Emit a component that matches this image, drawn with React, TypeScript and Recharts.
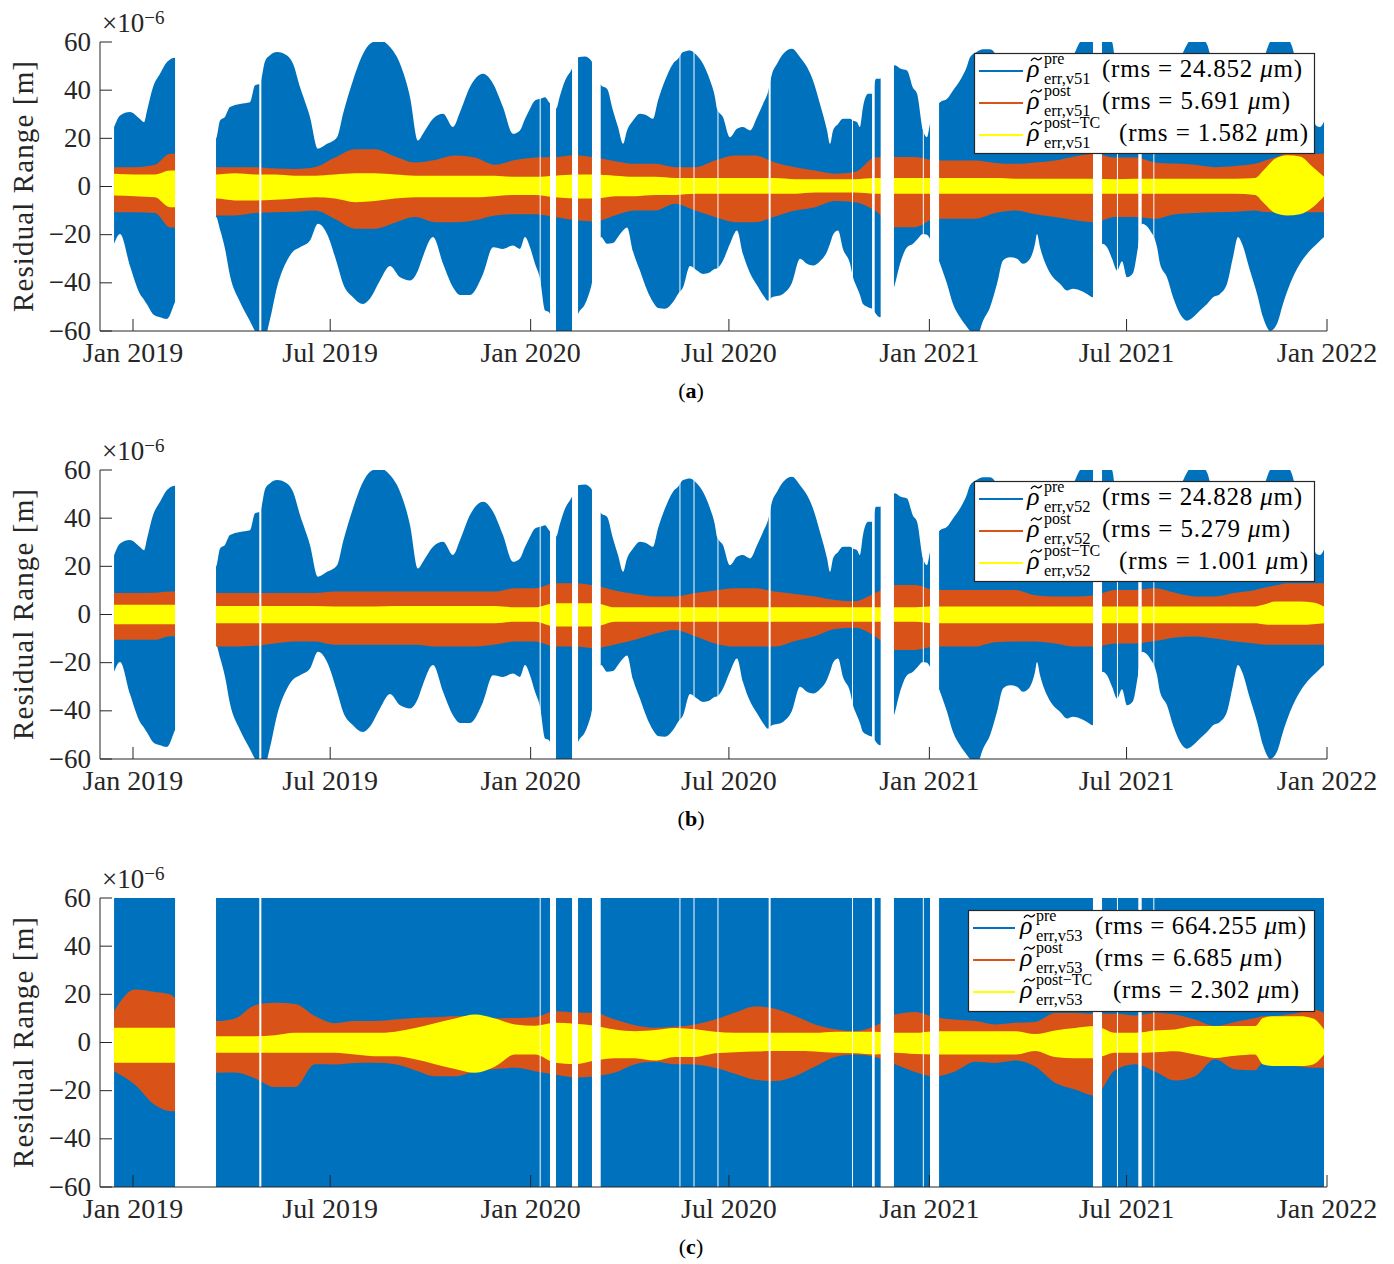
import React from 'react';
import { ComposedChart, Area, XAxis, YAxis, ReferenceArea } from 'recharts';

// ---------- axes ----------
const tickDays = [0, 181, 365, 547, 731, 912, 1096];
const tickLabels = ['Jan 2019', 'Jul 2019', 'Jan 2020', 'Jul 2020', 'Jan 2021', 'Jul 2021', 'Jan 2022'];
const yTicks = [-60, -40, -20, 0, 20, 40, 60];
const xDomain: [number, number] = [-30.3, 1096];

// ---------- data gaps (days since 2019-01-01) ----------
const gapStart = [38.6, 115.9, 373.3, 382.8, 403.0, 421.3, 501.6, 514.5, 536.5, 583.5, 660.0, 678.4, 686.3, 725.0, 731.6, 881.2, 903.2, 922.8, 936.6, 1093.5];
const gapEnd = [76.2, 117.8, 374.2, 388.3, 408.5, 429.3, 502.5, 515.4, 537.4, 585.3, 660.9, 680.8, 698.5, 725.9, 739.9, 889.5, 904.1, 925.9, 937.5, 1096];

// ---------- pre-fit residual envelope (v51 / v52) ----------
const blueDaysAB = [-17.4, -11.9, -2.8, 6.4, 10.1, 12.9, 18.4, 24.8, 31.2, 38.6,
  76.2, 79.9, 84.5, 89.0, 98.2, 107.4, 112.0, 116.6, 121.2, 125.8,
  132.2, 141.4, 146.9, 153.3, 162.5, 169.8, 178.1, 187.3, 192.8, 201.9,
  211.1, 217.6, 226.7, 235.9, 245.1, 254.3, 261.6, 266.2, 275.4, 284.6,
  293.7, 300.2, 309.3, 321.3, 330.5, 339.6, 348.8, 355.2, 359.8, 364.4,
  369.0, 373.6, 378.2, 381.9, 388.3, 392.0, 396.6, 402.1, 408.5, 414.9,
  420.4, 429.6, 435.1, 440.6, 445.2, 449.8, 453.5, 459.0, 465.4, 471.8,
  477.3, 481.9, 488.3, 495.7, 500.3, 504.9, 511.3, 517.7, 523.2, 529.7,
  534.2, 536.1, 541.6, 548.0, 554.4, 559.9, 566.4, 572.8, 578.3, 582.9,
  586.6, 591.2, 596.7, 604.9, 612.3, 618.7, 624.2, 630.6, 637.1, 639.8,
  642.6, 647.2, 651.7, 658.2, 660.9, 664.6, 667.3, 670.1, 674.7, 678.4,
  682.0, 685.7, 699.5, 704.1, 710.5, 716.0, 719.7, 725.2, 728.8, 731.6,
  740.8, 747.2, 752.7, 759.1, 765.6, 768.3, 774.7, 780.3, 786.7, 793.1,
  798.6, 805.0, 811.5, 817.0, 823.4, 828.0, 829.8, 832.6, 839.0, 844.5,
  850.9, 857.4, 862.9, 869.3, 875.7, 881.2, 889.5, 894.1, 898.7, 903.3,
  907.8, 912.4, 917.9, 922.5, 926.2, 933.6, 940.0, 942.7, 949.1, 954.7,
  961.1, 967.5, 973.0, 979.4, 985.9, 991.4, 997.8, 1004.2, 1009.7, 1014.3,
  1018.0, 1025.3, 1031.8, 1037.3, 1040.9, 1043.7, 1050.1, 1055.6, 1062.1, 1071.2,
  1080.4, 1086.8, 1089.6, 1093.3];
const blueHiAB = [24.6, 29.5, 30.9, 28, 26.7, 31.6, 41.3, 46.8, 51.7, 53.5,
  19.8, 27.4, 29, 33, 34.3, 35, 42, 42.7, 52, 54.5,
  55.8, 54.4, 51, 41.3, 28.8, 15.7, 17.7, 20.5, 30.2, 44,
  55, 59.3, 60.7, 57.9, 51, 37.1, 19.1, 21.9, 28.1, 30.2,
  24.7, 30.9, 41.3, 46.8, 42.7, 33, 21.9, 23.3, 28, 32.3,
  35.7, 36.4, 37.1, 35, 32.3, 37.8, 44, 48.2, 53.7, 54,
  52.4, 42, 40.6, 31.6, 24.7, 17.7, 23.3, 27.4, 30.2, 29.5,
  28.1, 35.7, 44, 51, 53, 55.8, 56.5, 54.4, 51, 44,
  37.1, 32.3, 28.8, 20.5, 24, 24.7, 23.3, 28.8, 34.3, 39.2,
  46.8, 51, 55, 57.2, 53.7, 49.6, 44, 34.3, 23.3, 17.7,
  23.3, 26, 28.1, 28.1, 27.4, 26.7, 24.7, 33, 38.5, 38.5,
  44.7, 44.7, 50.3, 49, 48.2, 41, 38.5, 23.3, 20.5, 26,
  35, 36.4, 39.9, 44, 50, 53.7, 56, 57, 57, 54,
  48, 42, 34, 29, 28, 30, 31, 33, 37, 42,
  46, 50, 54, 60, 62, 62, 62, 62, 60, 45,
  40, 36, 34, 30, 25, 28, 32, 35, 42, 48,
  53, 59, 62, 62, 59, 50, 42, 35, 28, 24,
  26, 32, 42, 52, 57, 60, 62, 62, 60, 45,
  32, 25, 24.7, 27];
const blueLoAB = [-23.8, -19.7, -33, -44.6, -47, -49, -53, -54.3, -55, -48,
  -12.7, -18, -26, -37, -48, -56, -60, -62, -62, -55,
  -41.8, -30.7, -27, -25.2, -22.4, -15.5, -19.7, -32, -40.4, -46,
  -48.8, -46.5, -39, -33, -37.7, -39, -34.9, -29, -21, -32.1,
  -41.8, -45, -45, -36.3, -25.2, -25.9, -24.5, -25.9, -21, -25.2,
  -32.1, -38.4, -51.5, -52.2, -62, -62, -62, -62, -52.9, -48.8,
  -41.8, -21, -23.8, -23.5, -21, -18.3, -17, -27, -35, -43,
  -48, -50.5, -50.8, -48, -44.6, -41.8, -33, -34.9, -36.3, -35.6,
  -34.2, -34, -30.7, -23.8, -18.3, -28, -36, -41, -45, -47.4,
  -46, -45.5, -44.6, -40, -30, -32.1, -32.8, -31, -27, -23.8,
  -20, -18.3, -26, -32.1, -37.7, -42, -45, -48.8, -50.1, -50.8,
  -52.9, -54.3, -40.4, -32.1, -25.2, -23.8, -22, -19.7, -20, -21.7,
  -32.1, -40.4, -48.8, -54.3, -58.4, -60, -62, -55.7, -50.1, -40.4,
  -30.7, -29.4, -30, -32.1, -30, -23.8, -19.7, -25.2, -33.5, -37.7,
  -40.4, -43.2, -42.5, -43.2, -44.6, -46, -23.8, -25.2, -30, -34.9,
  -31, -37.7, -36, -25.2, -15.5, -18.3, -25.2, -32.1, -37.7, -46,
  -52.9, -55.7, -54.3, -51.5, -48.8, -46, -44.6, -40.4, -29.4, -21,
  -23.8, -34.9, -44.6, -54.3, -58.4, -60, -57, -48.8, -40.4, -32.1,
  -26.6, -23.8, -22.5, -21];

// ---------- pre-fit residual envelope (v53), far beyond the axis ----------
const blueDaysC = [-17.4, 1093.3];
const blueHiC = [940, 940];
const blueLoC = [-940, -940];

// ---------- post-fit & post-TC envelopes ----------
const bandDays = [-17.4, 1.8, 20.2, 34, 38.6, 76.2, 93.6, 112, 130.3, 148.7,
  167, 185.4, 203.8, 222.1, 240.5, 258.9, 277.2, 295.6, 314, 332.3,
  350.7, 369, 387.4, 405.7, 424, 442.4, 460.8, 479.2, 497.5, 515.9,
  534.2, 552.6, 571, 589.3, 607.7, 626, 644.4, 662.8, 681.1, 699.5,
  717.8, 736.2, 754.5, 772.9, 791.3, 809.6, 828, 846.3, 864.7, 883,
  901.4, 919.8, 938.1, 956.5, 974.9, 993.2, 1011.6, 1030, 1037.3, 1048.3,
  1059.3, 1071.2, 1083.2, 1093.3];

const orangeHiA = [8, 8, 9, 13.6, 13.6, 8, 8, 8, 7.5, 7.3,
  8, 12, 15.5, 15.5, 12.5, 10, 11, 12.9, 12, 9,
  11, 12, 12.2, 13, 12, 10.5, 9.4, 9.4, 8, 8,
  10.8, 12.9, 12.9, 10, 8, 6.6, 5.3, 6, 12, 12.2,
  12.2, 10.8, 10.8, 10.8, 9.8, 9.4, 10, 10.8, 12.5, 13.6,
  12, 12, 10, 9.5, 9, 8, 8.5, 9.4, 10.5, 12,
  13.6, 13.6, 13.6, 13.6];
const orangeLoA = [-10.7, -10.7, -11, -17, -17, -12, -12, -11, -10.7, -10.5,
  -10, -13.5, -17.5, -17.5, -15, -12.7, -14.8, -14.8, -14, -12,
  -11.5, -11.5, -12.7, -14, -14.5, -12, -10, -10, -7.2, -10,
  -12.7, -14.8, -14.8, -12.5, -10, -8.6, -6, -6.5, -10, -16.9,
  -16.9, -13.4, -13.4, -13.4, -11, -10, -11.5, -12.7, -14, -14.8,
  -12.7, -12.7, -13.4, -11.5, -11, -10.7, -10.5, -10, -10.5, -10.7,
  -10.7, -10.7, -10.7, -10.7];
const yellowHiA = [5.3, 5, 5, 6.6, 6.6, 5, 5.5, 5, 5, 4.5,
  4.5, 5, 5.5, 5.5, 5, 4.5, 4.5, 4.5, 4.5, 4.5,
  4, 4, 4.5, 5, 5, 4.5, 4, 4, 3.5, 3.5,
  3.5, 3.5, 3.5, 3.5, 3, 3, 3, 3, 3.5, 3.5,
  3.5, 3.5, 3.5, 3.5, 3.5, 3.2, 3.2, 3.2, 3.2, 3.2,
  3, 3.2, 3.2, 3.2, 3.2, 3.2, 3.2, 3.5, 6.5, 11.5,
  13, 12.5, 8, 4];
const yellowLoA = [-3.7, -4, -4.5, -8.6, -8.6, -5, -5.8, -5.8, -5.5, -5,
  -4.5, -5, -6.5, -6, -5, -4.5, -4.5, -4.5, -4.5, -4,
  -3.5, -3.5, -4.5, -5, -5, -4, -4, -3.5, -3.5, -3,
  -3, -3, -3, -3, -3, -2.5, -2.5, -2.5, -3, -3,
  -3, -3, -3, -3, -3, -3, -3, -3, -3, -3,
  -3, -3, -3, -3, -3, -3, -3, -3.5, -6.5, -11,
  -12, -11.5, -8.5, -4];

const orangeHiB = [8.9, 8.9, 9, 9.5, 9.5, 8.9, 8.9, 8.9, 8.9, 8.9,
  8.9, 9.5, 9.5, 9.5, 9.5, 9.5, 9.5, 9.5, 9.5, 9.5,
  10.9, 10.9, 13, 13, 12, 10, 8.5, 7.5, 7.5, 8.9,
  10, 10.9, 10.9, 9.5, 8.5, 7.5, 6, 5.5, 8.9, 12.3,
  12.3, 10.2, 10.2, 10.2, 10.2, 10.2, 8, 7.5, 7.5, 8,
  10.2, 10.2, 10.9, 9, 7.5, 7.5, 9, 10.2, 11, 12,
  13, 13, 13, 13];
const orangeLoB = [-10.5, -10.5, -10.5, -9, -9, -13.3, -13.3, -13, -12, -11.2,
  -11.2, -12.6, -12.6, -12.6, -12.6, -12.6, -13.3, -13.3, -13.3, -12.5,
  -11.2, -11.2, -13.3, -13.3, -14, -12.5, -10.5, -8, -6.4, -9,
  -12, -13.3, -13.3, -13.3, -11, -9, -6, -5.5, -9, -14.7,
  -14.7, -13.3, -13.3, -13.3, -11.5, -11.2, -11.2, -12, -13.3, -13.3,
  -12, -12, -11, -9.5, -9.1, -10, -11.2, -12, -12.5, -12.6,
  -12.6, -12.6, -12.6, -12.6];
const yellowHiB = [4, 4, 4, 4, 4, 3.5, 3.5, 3.5, 3.5, 3.5,
  3.5, 3.3, 3.3, 3.3, 3.5, 3.5, 3.5, 3.5, 3.5, 3.5,
  3, 3, 4.7, 4.7, 4.7, 3, 3, 3, 3, 3,
  3, 3, 3, 3, 3, 3, 3, 3, 3, 3,
  3, 3.3, 3.3, 3.3, 3.3, 3.3, 3.3, 3.3, 3.3, 3.3,
  3.3, 3.3, 3.3, 3.3, 3.3, 3.3, 3.3, 3.3, 4, 5.4,
  5.4, 5.4, 5, 3.3];
const yellowLoB = [-4, -4, -4, -4, -4, -3.6, -3.6, -3.6, -3.6, -3.6,
  -3.6, -3.6, -3.6, -3.6, -3.6, -3.6, -3.6, -3.6, -3.6, -3.6,
  -3, -3, -5, -5, -5, -3, -3, -3, -3, -3,
  -3, -3, -3, -3, -3, -3, -3, -3, -3, -3,
  -3, -3.6, -3.6, -3.6, -3.6, -3.6, -3.6, -3.6, -3.6, -3.6,
  -3.6, -3.6, -3.6, -3.6, -3.6, -3.6, -3.6, -3.6, -4, -4.3,
  -4.3, -4.3, -4, -3.6];

const orangeHiC = [13, 22, 21, 20, 18.5, 8.9, 10, 15.5, 16.5, 16,
  11, 8, 8.9, 8.9, 9.5, 10.2, 10.5, 10.9, 10.9, 10,
  10.2, 10.5, 13, 12.5, 12.3, 9.5, 7.2, 6.1, 6.5, 7.5,
  9.5, 12.5, 15, 14, 11, 7.5, 5.5, 4.7, 6.8, 11.6,
  12.7, 10.5, 9.5, 8.9, 7.5, 8.2, 8.5, 12.3, 12.3, 11.9,
  11.9, 11.2, 12.3, 11.6, 9.5, 6.8, 8.5, 10.2, 10.9, 11,
  11.6, 12.5, 13.7, 12.3];
const orangeLoC = [-11.9, -17.5, -26, -28.5, -28.5, -12.6, -12.5, -14.9, -18.5, -18.5,
  -9, -9.1, -8.5, -8.4, -9, -11.5, -14, -14, -12, -11,
  -10.5, -11.9, -13.3, -14.5, -14, -12.5, -9, -8, -9, -9.1,
  -10.5, -13, -15.5, -16, -14, -10, -6, -5, -6, -9,
  -12.2, -14, -12, -8, -8.5, -7.5, -10, -16.7, -19.5, -22,
  -11.5, -9, -12, -15.8, -14, -7, -11.2, -11.5, -8.4, -9,
  -9.5, -10, -10.5, -10.5];
const yellowHiC = [6.1, 6.1, 6.1, 6.1, 6.1, 2.6, 2.6, 2.6, 3, 4,
  4, 4, 4, 4, 4.5, 6, 8, 10, 11.6, 10,
  7.5, 7, 8.2, 7.8, 7, 5.4, 4.7, 5.2, 6, 5.5,
  4.5, 4, 4, 4, 4, 4, 4.5, 4.5, 4.5, 4,
  4, 4.7, 4.7, 4.7, 4.7, 4.7, 3.5, 5, 6, 6.8,
  4, 4, 5, 5.4, 6.8, 6.8, 6.8, 6.8, 10.2, 10.9,
  10.9, 10.9, 10, 5.4];
const yellowLoC = [-8.4, -8.4, -8.4, -8.4, -8.4, -4.3, -4.3, -4.3, -4.3, -4.3,
  -4.3, -4.3, -5, -5.7, -5.7, -7, -9, -11, -12.6, -10,
  -5, -5, -8.4, -9, -7.5, -6.5, -6.5, -7.5, -6, -6,
  -4.5, -4, -3.7, -3.5, -3.5, -3.7, -4.3, -4.5, -5, -4.3,
  -4.8, -5, -5, -5, -5, -5, -3.5, -6, -6.5, -6.5,
  -4.3, -4.3, -4, -3.6, -5, -6.4, -5.5, -5, -9.1, -9.8,
  -9.8, -9.8, -9.1, -5];

// ---------- legend text ----------
const supLabels = ['pre', 'post', 'post\u2212TC'];
const subLabelsByPanel = ['err,v51', 'err,v52', 'err,v53'];
const rmsByPanel = [
  ['24.852', '5.691', '1.582'],
  ['24.828', '5.279', '1.001'],
  ['664.255', '6.685', '2.302'],
];
const captionLetters = ['a', 'b', 'c'];

// ---------- styles ----------
const BLUE = '#0072BD';
const ORANGE = '#D95319';
const YELLOW = '#FFFF00';
const AXIS = '#262626';
const FONT = '"Liberation Serif", "DejaVu Serif", serif';
const seriesColors = [BLUE, ORANGE, YELLOW];

type Series = { key: string; days: number[]; hi: number[]; lo: number[] };

function buildRows(series: Series[]) {
  const map = new Map<number, any>();
  series.forEach((s) => {
    s.days.forEach((d, i) => {
      if (s.hi[i] == null || s.lo[i] == null) return;
      let r = map.get(d);
      if (!r) {
        r = { day: d };
        map.set(d, r);
      }
      r[s.key] = [s.lo[i], s.hi[i]];
    });
  });
  return Array.from(map.values()).sort((a, b) => a.day - b.day);
}

const panelRows = [
  buildRows([
    { key: 'blue', days: blueDaysAB, hi: blueHiAB, lo: blueLoAB },
    { key: 'orange', days: bandDays, hi: orangeHiA, lo: orangeLoA },
    { key: 'yellow', days: bandDays, hi: yellowHiA, lo: yellowLoA },
  ]),
  buildRows([
    { key: 'blue', days: blueDaysAB, hi: blueHiAB, lo: blueLoAB },
    { key: 'orange', days: bandDays, hi: orangeHiB, lo: orangeLoB },
    { key: 'yellow', days: bandDays, hi: yellowHiB, lo: yellowLoB },
  ]),
  buildRows([
    { key: 'blue', days: blueDaysC, hi: blueHiC, lo: blueLoC },
    { key: 'orange', days: bandDays, hi: orangeHiC, lo: orangeLoC },
    { key: 'yellow', days: bandDays, hi: yellowHiC, lo: yellowLoC },
  ]),
];

const PANEL_TOPS = [0, 428, 856];
const CHART_W = 1394;
const CHART_H = 380;

const XTick = (props: any) => {
  const { x, y, payload } = props;
  const idx = tickDays.indexOf(payload.value);
  return (
    <g>
      <line x1={x} y1={y} x2={x} y2={y - 12} stroke={AXIS} strokeWidth={1} />
      <text x={x} y={y + 31} textAnchor="middle" fontSize={28} fontFamily={FONT} fill={AXIS}>
        {idx >= 0 ? tickLabels[idx] : ''}
      </text>
    </g>
  );
};

const TopTick = (props: any) => {
  const { x, y } = props;
  return <line x1={x} y1={y} x2={x} y2={y + 12} stroke={AXIS} strokeWidth={1} />;
};

const YTick = (props: any) => {
  const { x, y, payload } = props;
  const v = payload.value as number;
  const label = v < 0 ? '\u2212' + Math.abs(v) : String(v);
  return (
    <g>
      <line x1={x} y1={y} x2={x + 12} y2={y} stroke={AXIS} strokeWidth={1} />
      <text x={x - 9} y={y + 8.5} textAnchor="end" fontSize={27} fontFamily={FONT} fill={AXIS}>
        {label}
      </text>
    </g>
  );
};

const RTick = (props: any) => {
  const { x, y } = props;
  return <line x1={x} y1={y} x2={x - 12} y2={y} stroke={AXIS} strokeWidth={1} />;
};

function Panel({ idx }: { idx: number }) {
  const rows = panelRows[idx];
  return (
    <div style={{ position: 'absolute', left: 0, top: PANEL_TOPS[idx], width: CHART_W, height: CHART_H }}>
      <ComposedChart width={CHART_W} height={CHART_H} data={rows} margin={{ top: 42, right: 67, bottom: 0, left: 40 }}>
        <Area dataKey="blue" type="monotone" fill={BLUE} fillOpacity={1} stroke="none" connectNulls dot={false} activeDot={false} isAnimationActive={false} />
        <Area dataKey="orange" type="monotone" fill={ORANGE} fillOpacity={1} stroke="none" connectNulls dot={false} activeDot={false} isAnimationActive={false} />
        <Area dataKey="yellow" type="monotone" fill={YELLOW} fillOpacity={1} stroke="none" connectNulls dot={false} activeDot={false} isAnimationActive={false} />
        {gapStart.map((g, i) => (
          <ReferenceArea key={'gap' + i} x1={g} x2={gapEnd[i]} y1={-60} y2={60} fill="#ffffff" fillOpacity={1} stroke="none" zIndex={450} />
        ))}
        <XAxis dataKey="day" type="number" domain={xDomain} ticks={tickDays} allowDataOverflow height={49} tickSize={0} tickMargin={0} interval={0} tick={<XTick />} tickLine={false} axisLine={{ stroke: AXIS, strokeWidth: 1 }} />
        <XAxis xAxisId="top" orientation="top" dataKey="day" type="number" domain={xDomain} ticks={tickDays} allowDataOverflow height={0} tickSize={0} tickMargin={0} interval={0} tick={<TopTick />} tickLine={false} axisLine={{ stroke: AXIS, strokeWidth: 1 }} />
        <YAxis type="number" domain={[-60, 60]} ticks={yTicks} allowDataOverflow width={60} tickSize={0} tickMargin={0} interval={0} tick={<YTick />} tickLine={false} axisLine={{ stroke: AXIS, strokeWidth: 1 }} />
        <YAxis yAxisId="right" orientation="right" type="number" domain={[-60, 60]} ticks={yTicks} allowDataOverflow width={0} tickSize={0} tickMargin={0} interval={0} tick={<RTick />} tickLine={false} axisLine={{ stroke: AXIS, strokeWidth: 1 }} />
      </ComposedChart>
    </div>
  );
}

// legend geometry (relative to the legend box)
const legendAB = { x: 974, y: 53, w: 340, h: 100, lx0: 5, lx1: 49, rho: 53, script: 70, mainX: [128, 128, 145], mainEnd: [328, 316, 334] };
const legendC = { x: 968, y: 54, w: 346, h: 101, lx0: 5, lx1: 47, rho: 52, script: 68, mainX: [127, 127, 145], mainEnd: [338, 314, 331] };

function Legend({ idx }: { idx: number }) {
  const L = idx === 2 ? legendC : legendAB;
  const top = PANEL_TOPS[idx];
  return (
    <g transform={`translate(${L.x}, ${L.y + top})`}>
      <rect x={0.5} y={0.5} width={L.w} height={L.h} fill="#ffffff" stroke={AXIS} strokeWidth={1.2} />
      {[0, 1, 2].map((i) => {
        const dy = 32 * i;
        const tx = L.rho + 4;
        const ty = 6 + dy;
        return (
          <g key={i} fontFamily={FONT} fill="#000">
            <line x1={L.lx0} y1={18 + dy} x2={L.lx1} y2={18 + dy} stroke={seriesColors[i]} strokeWidth={2.2} />
            <path d={`M ${tx} ${ty + 1.8} Q ${tx + 2.6} ${ty - 2.2} ${tx + 5.4} ${ty} T ${tx + 10.8} ${ty - 1.6}`} fill="none" stroke="#000" strokeWidth={1.3} />
            <text x={L.rho} y={24 + dy} fontSize={26} fontStyle="italic">ρ</text>
            <text x={L.script} y={11 + dy} fontSize={16}>
              {supLabels[i]}
              <tspan x={L.script} y={30.5 + dy} fontSize={16.5}>{subLabelsByPanel[idx]}</tspan>
            </text>
            <text x={L.mainX[i]} y={24 + dy} fontSize={25} textLength={L.mainEnd[i] - L.mainX[i]} lengthAdjust="spacing">
              (rms = {rmsByPanel[idx][i]} <tspan fontStyle="italic">μ</tspan>m)
            </text>
          </g>
        );
      })}
    </g>
  );
}

function Overlay() {
  return (
    <svg width={1394} height={1264} style={{ position: 'absolute', left: 0, top: 0, pointerEvents: 'none' }}>
      {[0, 1, 2].map((idx) => {
        const t = PANEL_TOPS[idx];
        return (
          <g key={idx} fontFamily={FONT} fill={AXIS}>
            <text x={33} y={186.5 + t} fontSize={29} textAnchor="middle" textLength={251} lengthAdjust="spacing" transform={`rotate(-90, 33, ${186.5 + t})`}>
              Residual Range [m]
            </text>
            <text x={102} y={32 + t} fontSize={27}>
              ×10<tspan dy={-8} fontSize={19}>{'\u2212'}6</tspan>
            </text>
            <text x={691} y={398 + t} fontSize={22} textAnchor="middle" fill="#000">
              (<tspan fontWeight="bold">{captionLetters[idx]}</tspan>)
            </text>
            <Legend idx={idx} />
          </g>
        );
      })}
    </svg>
  );
}

export default function App() {
  return (
    <div style={{ position: 'absolute', left: 0, top: 0, width: 1394, height: 1264, background: '#fff' }}>
      <Panel idx={0} />
      <Panel idx={1} />
      <Panel idx={2} />
      <Overlay />
    </div>
  );
}
